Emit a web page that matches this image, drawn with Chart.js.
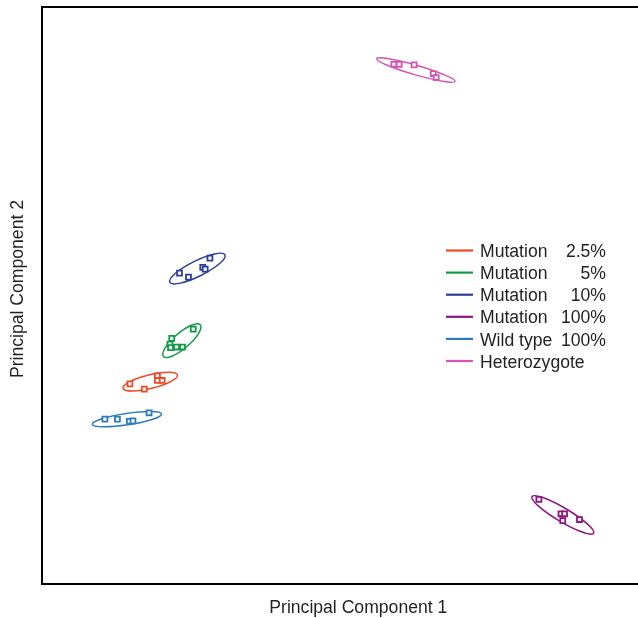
<!DOCTYPE html>
<html>
<head>
<meta charset="utf-8">
<script src="https://cdn.jsdelivr.net/npm/chart.js@4/dist/chart.umd.min.js"></script>
<style>
html,body{margin:0;padding:0;background:#fff;overflow:hidden;}
#wrap{width:638px;height:618px;}
canvas{display:block;}
</style>
</head>
<body>
<div id="wrap"><canvas id="c" width="638" height="618"></canvas></div>
<script>
// Series names and legend columns
const seriesNames = ['Mutation', 'Mutation', 'Mutation', 'Mutation', 'Wild type', 'Heterozygote'];
const seriesPercents = ['2.5%', '5%', '10%', '100%', '100%', ''];
const seriesColors = ['#EC4A24', '#139A48', '#2D3E98', '#8C1681', '#2E7BC1', '#D555B4'];
const axisTitles = ['Principal Component 1', 'Principal Component 2'];

// Principal component scores (PC1, PC2)
const mut25PC1 = [14.9, 17.3, 19.5, 19.5, 20.3];
const mut25PC2 = [34.5, 33.6, 35.9, 35.1, 35.1];
const mut5PC1 = [25.5, 21.9, 21.6, 21.7, 22.7, 23.7];
const mut5PC2 = [44.0, 42.4, 41.4, 40.8, 40.9, 40.9];
const mut10PC1 = [23.2, 24.7, 27.1, 27.5, 28.3];
const mut10PC2 = [53.7, 53.0, 54.7, 54.4, 56.3];
const mut100PC1 = [83.4, 87.1, 87.7, 87.4, 90.2];
const mut100PC2 = [14.5, 12.0, 12.0, 10.8, 11.0];
const wildPC1 = [10.7, 12.8, 14.8, 15.4, 18.1];
const wildPC2 = [28.4, 28.4, 28.0, 28.1, 29.5];
const hetPC1 = [59.1, 60.0, 62.5, 65.7, 66.2];
const hetPC2 = [89.9, 89.9, 89.8, 88.3, 87.6];

// Confidence ellipses: centre, semi-major axis vector, semi-minor length (data units)
const ellipseCX = [18.3, 23.6, 26.2, 87.4, 14.4, 62.8];
const ellipseCY = [34.9, 42.0, 54.5, 11.8, 28.4, 88.9];
const ellipseAX = [4.56, 3.08, 4.61, 5.16, 5.80, 6.56];
const ellipseAY = [1.15, 2.75, 2.37, -3.17, 0.89, -1.97];
const ellipseB = [1.15, 1.3, 1.3, 1.15, 0.95, 0.8];

const pcX = [mut25PC1, mut5PC1, mut10PC1, mut100PC1, wildPC1, hetPC1];
const pcY = [mut25PC2, mut5PC2, mut10PC2, mut100PC2, wildPC2, hetPC2];

const datasets = pcX.map((xs, i) => ({
  label: seriesNames[i] + (seriesPercents[i] ? ' ' + seriesPercents[i] : ''),
  data: xs.map((x, j) => ({x: x, y: pcY[i][j]})),
  borderColor: seriesColors[i],
  backgroundColor: '#ffffff',
  pointStyle: 'rect',
  pointRadius: 3.5,
  pointBorderWidth: 1.8,
  showLine: false
}));

const FONT = '"Liberation Sans", Arial, Helvetica, sans-serif';
const TEXT = '#231f20';

const decorPlugin = {
  id: 'decor',
  beforeDatasetsDraw(chart) {
    const ctx = chart.ctx;
    const xs = chart.scales.x, ys = chart.scales.y;
    ctx.save();
    for (let i = 0; i < ellipseCX.length; i++) {
      const cx = xs.getPixelForValue(ellipseCX[i]);
      const cy = ys.getPixelForValue(ellipseCY[i]);
      const ex = xs.getPixelForValue(ellipseCX[i] + ellipseAX[i]);
      const ey = ys.getPixelForValue(ellipseCY[i] + ellipseAY[i]);
      const ra = Math.hypot(ex - cx, ey - cy);
      const rb = Math.abs(xs.getPixelForValue(ellipseB[i]) - xs.getPixelForValue(0));
      const ang = Math.atan2(ey - cy, ex - cx);
      ctx.beginPath();
      ctx.ellipse(cx, cy, ra, rb, ang, 0, Math.PI * 2);
      ctx.strokeStyle = seriesColors[i];
      ctx.lineWidth = 1.5;
      ctx.stroke();
    }
    ctx.restore();
  },
  afterDatasetsDraw(chart) {
    const ctx = chart.ctx;
    const a = chart.chartArea;
    ctx.save();
    // frame (left, top, bottom)
    ctx.strokeStyle = '#000';
    ctx.lineWidth = 2;
    ctx.beginPath();
    ctx.moveTo(a.right, a.top + 1);
    ctx.lineTo(a.left + 1, a.top + 1);
    ctx.lineTo(a.left + 1, a.bottom + 1);
    ctx.lineTo(a.right, a.bottom + 1);
    ctx.stroke();
    // axis titles
    ctx.font = '17.6px ' + FONT;
    ctx.fillStyle = TEXT;
    ctx.textAlign = 'center';
    ctx.textBaseline = 'alphabetic';
    ctx.fillText(axisTitles[0], 358.3, 613);
    ctx.save();
    ctx.translate(23, 289);
    ctx.rotate(-Math.PI / 2);
    ctx.fillText(axisTitles[1], 0, 0);
    ctx.restore();
    // legend
    const lx0 = 446, lx1 = 473, tx = 480, vx = 606, y0 = 250.5, dy = 22.1;
    ctx.font = '17.6px ' + FONT;
    chart.data.datasets.forEach((ds, i) => {
      const y = y0 + i * dy;
      ctx.strokeStyle = seriesColors[i];
      ctx.lineWidth = 2.2;
      ctx.beginPath();
      ctx.moveTo(lx0, y);
      ctx.lineTo(lx1, y);
      ctx.stroke();
      ctx.fillStyle = TEXT;
      ctx.textAlign = 'left';
      ctx.fillText(seriesNames[i], tx, y + 6.6);
      if (seriesPercents[i]) {
        ctx.textAlign = 'right';
        ctx.fillText(seriesPercents[i], vx, y + 6.6);
      }
    });
    ctx.restore();
  }
};

new Chart(document.getElementById('c'), {
  type: 'scatter',
  data: {datasets},
  options: {
    responsive: false,
    animation: false,
    layout: {autoPadding: false, padding: {top: 6, right: 0, left: 41, bottom: 35}},
    plugins: {legend: {display: false}, tooltip: {enabled: false}},
    scales: {
      x: {type: 'linear', min: 0, max: 100, display: false},
      y: {type: 'linear', min: 0, max: 100, display: false}
    }
  },
  plugins: [decorPlugin]
});
</script>
</body>
</html>
